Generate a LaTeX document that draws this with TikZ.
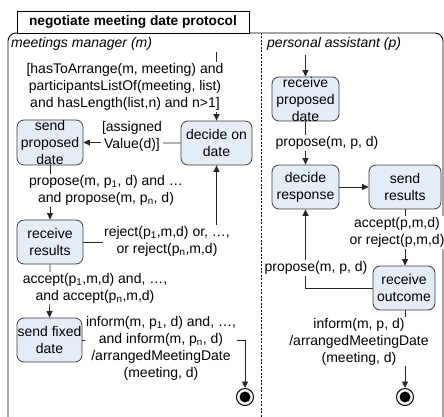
\documentclass[tikz,border=0pt]{standalone}
\usepackage{fontspec}
\setmainfont{Liberation Sans}
\usetikzlibrary{arrows.meta}
\definecolor{boxfill}{RGB}{230,236,246}
\definecolor{boxline}{RGB}{60,60,60}
\begin{document}
\begin{tikzpicture}[x=1pt,y=-1pt,
  every node/.style={font=\fontsize{14}{17}\selectfont, inner sep=1pt},
  state/.style={draw=boxline, fill=boxfill, rounded corners=7pt, line width=0.8pt, inner sep=0pt},
  txt/.style={align=center, inner sep=0pt},
  lbl/.style={fill=white, align=center, inner sep=1pt},
  flow/.style={draw=black!85, line width=0.7pt, -{Triangle[length=6.5pt,width=6pt]}},
  final/.style={circle, draw=black, line width=1pt, fill=white, minimum size=17pt, inner sep=0pt,
    path picture={\fill[black] (path picture bounding box.center) circle (5.5pt);}}
]
\useasboundingbox (0,0) rectangle (444,417);
% frame
\draw[line width=0.9pt, rounded corners=8pt] (8,33) rectangle (443,430);
\node[draw, line width=0.9pt, fill=white, minimum width=232pt, minimum height=22pt, inner sep=0pt,
  font=\fontsize{13.7}{17}\selectfont\bfseries] (title) at (133,22) {negotiate meeting date protocol};
\draw[dashed, dash pattern=on 2pt off 1.5pt, line width=0.7pt] (261,33) -- (261,417);
\node[anchor=west, font=\fontsize{14}{17}\selectfont\itshape] (lane1) at (10,44) {meetings manager (m)};
\node[anchor=west, font=\fontsize{14}{17}\selectfont\itshape] (lane2) at (266,44) {personal assistant (p)};

% left lane states
\node[state, minimum width=66pt, minimum height=45pt] (sp) at (50,142.5) {};
\node[txt] (spt) at (sp) {send\\proposed\\date};
\node[state, minimum width=71pt, minimum height=44pt] (dd) at (216.5,143) {};
\node[txt] (ddt) at (dd) {decide on\\date};
\node[state, minimum width=66pt, minimum height=44pt] (rr) at (50,242) {};
\node[txt] (rrt) at (rr) {receive\\results};
\node[state, minimum width=65pt, minimum height=44pt] (sf) at (49.5,340) {};
\node[txt] (sft) at (sf) {send fixed\\date};
\node[final] (fl) at (245,397) {};

% right lane states
\node[state, minimum width=67pt, minimum height=44pt] (rp) at (305.5,99) {};
\node[txt] (rpt) at (rp) {receive\\proposed\\date};
\node[state, minimum width=67pt, minimum height=44pt] (dr) at (305.5,187) {};
\node[txt] (drt) at (dr) {decide\\response};
\node[state, minimum width=72pt, minimum height=44pt] (sr) at (405,187) {};
\node[txt] (srt) at (sr) {send\\results};
\node[state, minimum width=62pt, minimum height=44pt] (ro) at (404,288) {};
\node[txt] (rot) at (ro) {receive\\outcome};
\node[final] (fr) at (405,397) {};

\coordinate (i1) at (216.5,52);
\coordinate (i2) at (305.5,55);

% left lane flows
\draw[flow] (i1) -- (dd.north);
\node[lbl] (g1) at (125,87) {[hasToArrange(m, meeting) and\\participantsListOf(meeting, list)\\and hasLength(list,n) and n>1]};
\draw[flow] (dd.west) -- (sp.east);
\node[lbl] (g2) at (132,136.5) {[assigned\\Value(d)]};
\draw[flow] (sp.south) -- (rr.north);
\node[lbl] (l1) at (106,190.5) {propose(m, p\textsubscript{1}, d) and \dots\\and propose(m, p\textsubscript{n}, d)};
\draw[flow] (rr.east) -| (dd.south);
\node[lbl] (l2) at (167,241) {reject(p\textsubscript{1},m,d) or, \dots,\\or reject(p\textsubscript{n},m,d)};
\draw[flow] (rr.south) -- (sf.north);
\node[lbl] (l3) at (95,288) {accept(p\textsubscript{1},m,d) and, \dots,\\and accept(p\textsubscript{n},m,d)};
\draw[flow] (sf.east) -| (fl.north);
\node[lbl] (l4) at (161,348.5) {inform(m, p\textsubscript{1}, d) and, \dots,\\and inform(m, p\textsubscript{n}, d)\\/arrangedMeetingDate\\(meeting, d)};

% right lane flows
\draw[flow] (i2) -- (rp.north);
\draw[flow] (rp.south) -- (dr.north);
\node[lbl] (r1) at (327,143) {propose(m, p, d)};
\draw[flow] (dr.east) -- (sr.west);
\draw[flow] (sr.south -| 405,0) -- (ro.north -| 405,0);
\node[lbl] (r2) at (397,232.5) {accept(p,m,d)\\or reject(p,m,d)};
\draw[flow] (ro.west) -| (dr.south);
\node[lbl] (r3) at (316,268) {propose(m, p, d)};
\draw[flow] (ro.south -| 405,0) -- (fr.north);
\node[lbl] (r4) at (359,341.5) {inform(m, p, d)\\/arrangedMeetingDate\\(meeting, d)};
\end{tikzpicture}
\end{document}
